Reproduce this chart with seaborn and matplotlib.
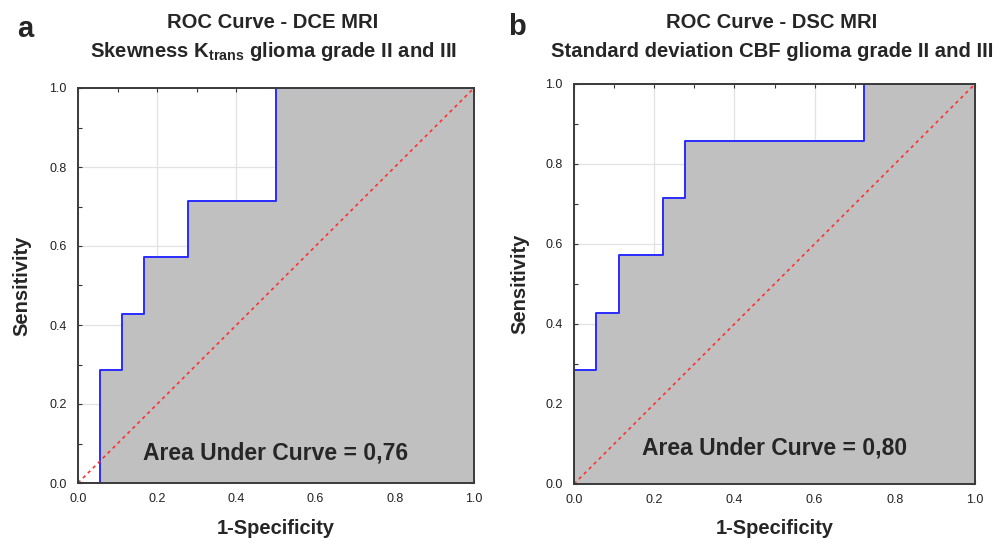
import numpy as np
import pandas as pd
import seaborn as sns
import matplotlib
matplotlib.use("Agg")
import matplotlib.pyplot as plt
from matplotlib.ticker import MultipleLocator

# ---- data ----
fpr_a = [0.0, 0.0556, 0.1111, 0.1667, 0.2778, 0.5, 1.0]
tpr_a = [0.0, 0.2857, 0.4286, 0.5714, 0.7143, 1.0, 1.0]
fpr_b = [0.0, 0.0, 0.0556, 0.1111, 0.2222, 0.2778, 0.7222, 1.0]
tpr_b = [0.0, 0.2857, 0.4286, 0.5714, 0.7143, 0.8571, 1.0, 1.0]
auc_labels = ["Area Under Curve = 0,76", "Area Under Curve = 0,80"]
title_line1 = ["ROC Curve - DCE MRI", "ROC Curve - DSC MRI"]
title_line2 = ["Skewness K$_{\\mathbf{trans}}$ glioma grade II and III",
               "Standard deviation CBF glioma grade II and III"]
panel_letters = ["a", "b"]
ticks = [0.0, 0.2, 0.4, 0.6, 0.8, 1.0]

sns.set_style("white")
plt.rcParams['font.family'] = ['Liberation Sans', 'DejaVu Sans']
plt.rcParams['mathtext.fontset'] = 'custom'
plt.rcParams['mathtext.rm'] = 'Liberation Sans'
plt.rcParams['mathtext.bf'] = 'Liberation Sans:bold'

W, H = 1007, 541
fig = plt.figure(figsize=(W / 100, H / 100), dpi=100)
axes = [fig.add_axes([78 / W, 1 - 483 / H, 396 / W, 395 / H]),
        fig.add_axes([574 / W, 1 - 484 / H, 401 / W, 400 / H])]

datasets = [(fpr_a, tpr_a), (fpr_b, tpr_b)]
auc_y = [0.076, 0.09]
title_x = [273, 772]
ylab_x = [-0.141, -0.135]
xlab_y = [-0.114, -0.110]

for i, ax in enumerate(axes):
    fx, ty = datasets[i]
    df = pd.DataFrame({"fpr": fx, "tpr": ty})
    ax.set_xticks(ticks)
    ax.set_yticks(ticks)
    ax.xaxis.set_minor_locator(MultipleLocator(0.1))
    ax.yaxis.set_minor_locator(MultipleLocator(0.1))
    ax.grid(True, which='major', color='#e2e2e2', lw=0.9, zorder=0)
    ax.set_axisbelow(True)
    ax.fill_between(df["fpr"], df["tpr"], step='post', color='#c0c0c0', lw=0, zorder=1)
    sns.lineplot(data=df, x="fpr", y="tpr", sort=False, estimator=None,
                 drawstyle='steps-post', color='#2a2aff', lw=1.4, ax=ax, zorder=3)
    sns.lineplot(x=[0, 1], y=[0, 1], color='#ff3030', lw=1.2, ax=ax, zorder=4)
    ax.lines[-1].set_dashes((2, 2.2))
    ax.set_xlim(0, 1)
    ax.set_ylim(0, 1)
    ax.tick_params(which='both', direction='in', top=True, right=True,
                   bottom=True, left=True, length=3, width=0.8, color='#333333',
                   labelsize=9, labelcolor='#222222')
    ax.tick_params(axis='x', pad=7)
    ax.tick_params(axis='y', pad=8)
    ax.set_xticklabels([f"{t:.1f}" for t in ticks])
    ax.set_yticklabels([f"{t:.1f}" for t in ticks])
    for s in ax.spines.values():
        s.set_color('#3a3a3a')
        s.set_linewidth(1.4)
        s.set_zorder(5)
    ax.set_xlabel("1-Specificity", fontsize=14.5, fontweight='bold', va='center')
    ax.set_ylabel("Sensitivity", fontsize=14.5, fontweight='bold', va='center')
    ax.xaxis.set_label_coords(0.5, xlab_y[i])
    ax.yaxis.set_label_coords(ylab_x[i], 0.5)
    ax.text(0.5, auc_y[i], auc_labels[i], fontsize=16.5, fontweight='bold',
            ha='center', va='center', zorder=6)
    fig.text(title_x[i] / W, 1 - 28 / H, title_line1[i], fontsize=14.6,
             fontweight='bold', ha='center', va='baseline')
    fig.text(title_x[i] / W, 1 - 57 / H, title_line2[i], fontsize=14.6,
             fontweight='bold', ha='center', va='baseline')

fig.text(17 / W, 1 - 37 / H, panel_letters[0], fontsize=21, fontweight='bold', va='baseline')
fig.text(508 / W, 1 - 35 / H, panel_letters[1], fontsize=21, fontweight='bold', va='baseline')

fig.savefig("out.png", dpi=100)
